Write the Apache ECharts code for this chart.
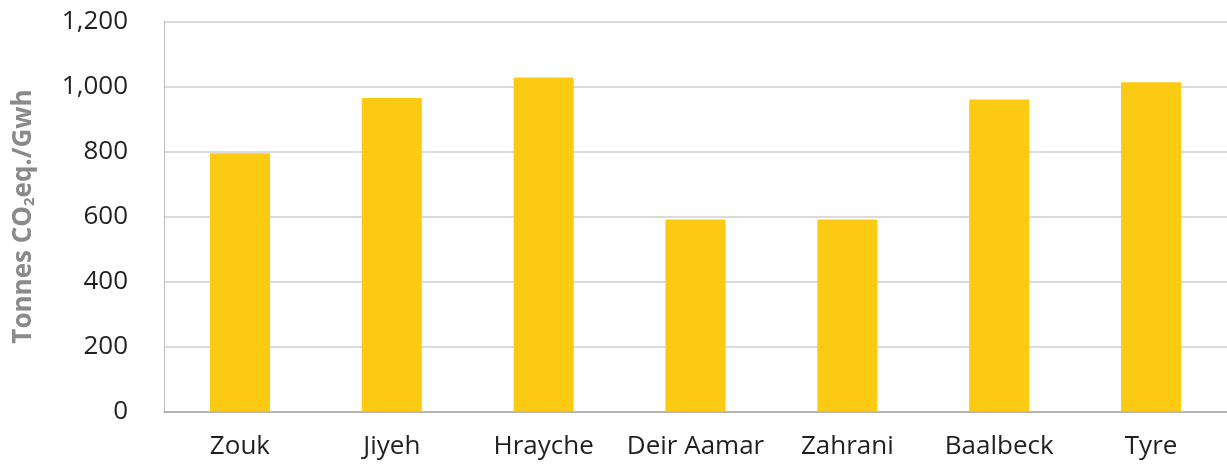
<!DOCTYPE html>
<html>
<head>
<meta charset="utf-8">
<script src="https://cdn.jsdelivr.net/npm/echarts@6/dist/echarts.min.js"></script>
<style>
  html, body { margin: 0; padding: 0; background: #ffffff; }
  #chart { width: 1227px; height: 466px; }
</style>
</head>
<body>
<div id="chart"></div>
<script>
// Emission intensity of power plants (tonnes CO2 equivalent per GWh)
const plants = ['Zouk', 'Jiyeh', 'Hrayche', 'Deir Aamar', 'Zahrani', 'Baalbeck', 'Tyre'];
const emissions = [795, 965, 1028, 591, 591, 960, 1013];
const yTicks = [0, 200, 400, 600, 800, 1000, 1200];

const FONT = '"Open Sans", "Noto Sans", sans-serif';

const chart = echarts.init(document.getElementById('chart'), null, { renderer: 'canvas' });

chart.setOption({
  animation: false,
  backgroundColor: '#ffffff',
  grid: { left: 164, right: 0, top: 21.5, bottom: 54.5, containLabel: false },
  xAxis: {
    type: 'category',
    data: plants,
    axisLine: { show: true, lineStyle: { color: '#a6a6a6', width: 1.5 } },
    axisTick: { show: false },
    axisLabel: {
      interval: 0,
      hideOverlap: false,
      color: '#231f20',
      fontSize: 26,
      fontFamily: FONT,
      margin: 22
    }
  },
  yAxis: {
    type: 'value',
    min: yTicks[0],
    max: yTicks[yTicks.length - 1],
    interval: yTicks[1] - yTicks[0],
    name: '{t|Tonnes CO}{s|2}{t|eq./Gwh}',
    nameLocation: 'middle',
    nameGap: 127,
    nameRotate: 90,
    nameTextStyle: {
      rich: {
        t: { color: '#8a8a8a', fontSize: 26, fontWeight: 'bold', fontFamily: FONT },
        s: { color: '#8a8a8a', fontSize: 15, fontWeight: 'bold', fontFamily: FONT, padding: [12, 0, 0, 0] }
      }
    },
    axisLine: { show: true, lineStyle: { color: '#bdbdbd', width: 1 } },
    axisTick: { show: false },
    axisLabel: {
      color: '#231f20',
      fontSize: 26,
      fontFamily: FONT,
      margin: 36,
      formatter: v => String(v).replace(/\B(?=(\d{3})+(?!\d))/g, ',')
    },
    splitLine: { show: true, lineStyle: { color: '#cfcfcf', width: 1.5 } }
  },
  series: [{
    type: 'bar',
    data: emissions,
    barWidth: 60,
    itemStyle: { color: '#fcc913' }
  }]
});
</script>
</body>
</html>
